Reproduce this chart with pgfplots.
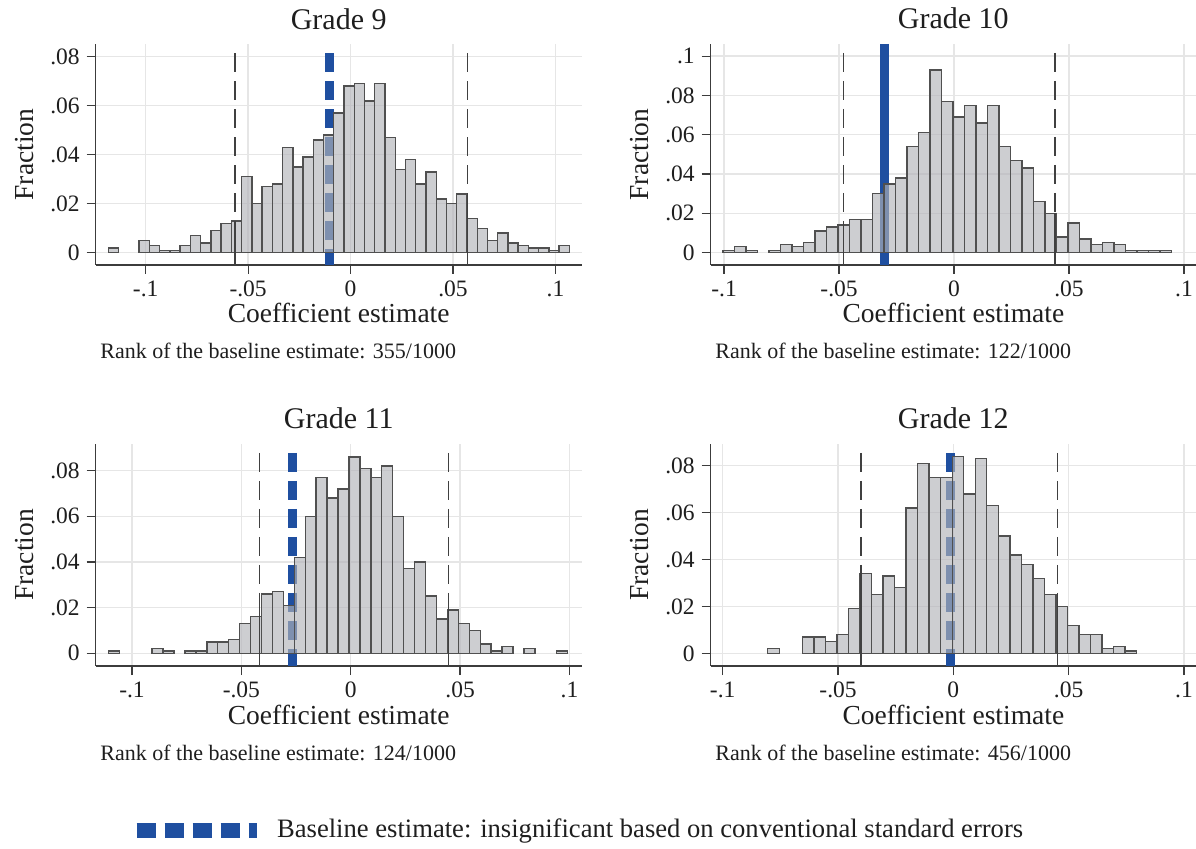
\documentclass[border=0pt]{standalone}
\usepackage{fontspec}
\setmainfont{Liberation Serif}
\usepackage{pgfplots}
\pgfplotsset{compat=1.18}

\definecolor{baseblue}{RGB}{31,79,160}
\definecolor{barfill}{RGB}{178,179,184}
\definecolor{baredge}{RGB}{80,80,80}
\definecolor{gridgray}{RGB}{230,230,230}
\definecolor{axisgray}{RGB}{60,60,60}
\definecolor{txt}{RGB}{30,30,30}

\newcommand\titlefont{\fontsize{15pt}{18pt}\selectfont}
\newcommand\labfont{\fontsize{13.75pt}{16pt}\selectfont}
\newcommand\tickfont{\fontsize{11.75pt}{14pt}\selectfont}
\newcommand\notefont{\fontsize{11pt}{13pt}\selectfont}
\newcommand\legfont{\fontsize{13.3pt}{15pt}\selectfont}

\tikzset{rank/.style={anchor=base west, font=\notefont, text=txt, inner sep=0pt, xshift=2.15pt, yshift=-47pt}}

\pgfplotsset{
  panel/.style={
    scale only axis, anchor=south west, clip=false,
    scaled ticks=false,
    axis x line*=bottom, axis y line*=left,
    axis line style={-, draw=axisgray, line width=0.6pt},
    tick align=outside, major tick length=4.5pt,
    tick style={draw=axisgray, line width=0.6pt},
    grid=major, major grid style={draw=gridgray, line width=0.7pt},
    xtick={-0.1,-0.05,0,0.05,0.1},
    xticklabels={-.1,-.05,0,.05,.1},
    ytick={0,0.02,0.04,0.06,0.08},
    yticklabels={0,.02,.04,.06,.08},
    ticklabel style={font=\tickfont, text=txt},
    title style={at={(axis description cs:0.5,1)}, anchor=base, inner sep=0pt, yshift=1.5pt, font=\titlefont, text=txt},
    xlabel style={at={(axis description cs:0.5,0)}, anchor=base, yshift=-29pt, font=\labfont, text=txt},
    ylabel style={anchor=base, font=\labfont, text=txt},
    xlabel={Coefficient estimate}, ylabel={Fraction},
  },
  bars/.style={ybar, bar width=0.005, bar shift=0pt, fill=barfill, fill opacity=0.65,
    draw=baredge, draw opacity=1, line width=0.7pt, forget plot},
  baseline/.style={baseblue, line width=4.5pt, forget plot},
  baselinedash/.style={baseblue, line width=4.5pt, dash pattern=on 9.5pt off 4.5pt, dash phase=9.5pt, forget plot},
  pctline/.style={draw=black!75, line width=0.75pt, dash pattern=on 9.5pt off 4.5pt, dash phase=9.5pt, forget plot},
  pctsolid/.style={draw=black!75, line width=0.75pt, forget plot},
}

\begin{document}
\begin{tikzpicture}
\useasboundingbox (0,0) rectangle (598pt,424pt);

% ---------------- Grade 9 ----------------
\begin{axis}[panel, at={(47.85pt,291.5pt)}, width=243pt, height=110.5pt,
  xmin=-0.1244, xmax=0.1128, ymin=-0.0050, ymax=0.0852,
  title={Grade 9}, ylabel style={at={(axis description cs:-0.129,0.5)}}]
\addplot[baselinedash] coordinates {(-0.0103,0.0852) (-0.0103,-0.0050)};
\addplot[bars] coordinates {
(-0.1157,0.002) (-0.1007,0.005) (-0.0957,0.003) (-0.0907,0.001) (-0.0857,0.001)
(-0.0807,0.003) (-0.0757,0.007) (-0.0707,0.004) (-0.0657,0.009) (-0.0607,0.012)
(-0.0557,0.013) (-0.0507,0.031) (-0.0457,0.020) (-0.0407,0.027) (-0.0357,0.028)
(-0.0307,0.043) (-0.0257,0.035) (-0.0207,0.039) (-0.0157,0.046) (-0.0107,0.048)
(-0.0057,0.057) (-0.0007,0.068) (0.0043,0.069) (0.0093,0.062) (0.0143,0.069)
(0.0193,0.047) (0.0243,0.034) (0.0293,0.038) (0.0343,0.028) (0.0393,0.033)
(0.0443,0.022) (0.0493,0.020) (0.0543,0.024) (0.0593,0.014) (0.0643,0.010)
(0.0693,0.005) (0.0743,0.008) (0.0793,0.004) (0.0843,0.003) (0.0893,0.002)
(0.0943,0.002) (0.0993,0.001) (0.1043,0.003)};
\addplot[pctsolid] coordinates {(-0.0564,-0.0050) (-0.0564,0.013)};
\addplot[pctsolid] coordinates {(0.0571,-0.0050) (0.0571,0.024)};
\addplot[pctline] coordinates {(-0.0564,0.0852) (-0.0564,-0.0050)};
\addplot[pctline] coordinates {(0.0571,0.0852) (0.0571,-0.0050)};
\node[rank] at (rel axis cs:0,0) {Rank of the baseline estimate: 355/1000};
\end{axis}

% ---------------- Grade 10 ----------------
\begin{axis}[panel, at={(355.35pt,291.5pt)}, width=242.65pt, height=110.5pt,
  xmin=-0.1058, xmax=0.1052, ymin=-0.0063, ymax=0.1062,
  ytick={0,0.02,0.04,0.06,0.08,0.1}, yticklabels={0,.02,.04,.06,.08,.1},
  title={Grade 10}, ylabel style={at={(axis description cs:-0.1292,0.5)}}]
\addplot[baseline] coordinates {(-0.0302,0.1062) (-0.0302,-0.0063)};
\addplot[bars] coordinates {
(-0.0980,0.001) (-0.0930,0.003) (-0.0880,0.001) (-0.0780,0.001) (-0.0730,0.004)
(-0.0680,0.003) (-0.0630,0.005) (-0.0580,0.011) (-0.0530,0.013) (-0.0480,0.014)
(-0.0430,0.017) (-0.0380,0.017) (-0.0330,0.030) (-0.0280,0.035) (-0.0230,0.038)
(-0.0180,0.054) (-0.0130,0.061) (-0.0080,0.093) (-0.0030,0.077) (0.0020,0.069)
(0.0070,0.075) (0.0120,0.066) (0.0170,0.075) (0.0220,0.054) (0.0270,0.047)
(0.0320,0.043) (0.0370,0.026) (0.0420,0.020) (0.0470,0.008) (0.0520,0.015)
(0.0570,0.007) (0.0620,0.004) (0.0670,0.005) (0.0720,0.004) (0.0770,0.001)
(0.0820,0.001) (0.0870,0.001) (0.0920,0.001)};
\addplot[pctsolid] coordinates {(-0.0481,-0.0063) (-0.0481,0.014)};
\addplot[pctsolid] coordinates {(0.0438,-0.0063) (0.0438,0.020)};
\addplot[pctline] coordinates {(-0.0481,0.1062) (-0.0481,-0.0063)};
\addplot[pctline] coordinates {(0.0438,0.1062) (0.0438,-0.0063)};
\node[rank] at (rel axis cs:0,0) {Rank of the baseline estimate: 122/1000};
\end{axis}

% ---------------- Grade 11 ----------------
\begin{axis}[panel, at={(47.85pt,91pt)}, width=243pt, height=111pt,
  xmin=-0.1166, xmax=0.1056, ymin=-0.0056, ymax=0.0917,
  title={Grade 11}, ylabel style={at={(axis description cs:-0.129,0.5)}}]
\addplot[baselinedash] coordinates {(-0.0266,0.0917) (-0.0266,-0.0056)};
\addplot[bars] coordinates {
(-0.1083,0.001) (-0.0883,0.002) (-0.0833,0.001) (-0.0733,0.001) (-0.0683,0.001)
(-0.0633,0.005) (-0.0583,0.005) (-0.0533,0.006) (-0.0483,0.013) (-0.0433,0.016)
(-0.0383,0.026) (-0.0333,0.027) (-0.0283,0.021) (-0.0233,0.042) (-0.0183,0.060)
(-0.0133,0.077) (-0.0083,0.068) (-0.0033,0.072) (0.0017,0.086) (0.0067,0.081)
(0.0117,0.077) (0.0167,0.082) (0.0217,0.060) (0.0267,0.037) (0.0317,0.040)
(0.0367,0.025) (0.0417,0.015) (0.0467,0.019) (0.0517,0.013) (0.0567,0.010)
(0.0617,0.004) (0.0667,0.001) (0.0717,0.003) (0.0817,0.002) (0.0967,0.001)};
\addplot[pctsolid] coordinates {(-0.0418,-0.0056) (-0.0418,0.026)};
\addplot[pctsolid] coordinates {(0.0448,-0.0056) (0.0448,0.019)};
\addplot[pctline] coordinates {(-0.0418,0.0917) (-0.0418,-0.0056)};
\addplot[pctline] coordinates {(0.0448,0.0917) (0.0448,-0.0056)};
\node[rank] at (rel axis cs:0,0) {Rank of the baseline estimate: 124/1000};
\end{axis}

% ---------------- Grade 12 ----------------
\begin{axis}[panel, at={(355.35pt,91pt)}, width=242.65pt, height=111pt,
  xmin=-0.1052, xmax=0.1052, ymin=-0.0054, ymax=0.0893,
  title={Grade 12}, ylabel style={at={(axis description cs:-0.1292,0.5)}}]
\addplot[baselinedash] coordinates {(-0.0011,0.0893) (-0.0011,-0.0054)};
\addplot[bars] coordinates {
(-0.0780,0.002) (-0.0630,0.007) (-0.0580,0.007) (-0.0530,0.005) (-0.0480,0.008)
(-0.0430,0.019) (-0.0380,0.034) (-0.0330,0.025) (-0.0280,0.033) (-0.0230,0.028)
(-0.0180,0.062) (-0.0130,0.081) (-0.0080,0.075) (-0.0030,0.075) (0.0020,0.084)
(0.0070,0.068) (0.0120,0.083) (0.0170,0.063) (0.0220,0.050) (0.0270,0.042)
(0.0320,0.038) (0.0370,0.032) (0.0420,0.025) (0.0470,0.020) (0.0520,0.012)
(0.0570,0.008) (0.0620,0.008) (0.0670,0.002) (0.0720,0.003) (0.0770,0.001)};
\addplot[pctsolid] coordinates {(-0.0400,-0.0054) (-0.0400,0.034)};
\addplot[pctsolid] coordinates {(0.0452,-0.0054) (0.0452,0.020)};
\addplot[pctline] coordinates {(-0.0400,0.0893) (-0.0400,-0.0054)};
\addplot[pctline] coordinates {(0.0452,0.0893) (0.0452,-0.0054)};
\node[rank] at (rel axis cs:0,0) {Rank of the baseline estimate: 456/1000};
\end{axis}

% ---------------- legend ----------------
\draw[baseblue, line width=7.15pt, dash pattern=on 9.5pt off 4.5pt] (68.35pt,8.75pt) -- (128.65pt,8.75pt);
\node[anchor=base west, font=\legfont, text=txt, inner sep=0pt] at (138.35pt,5.15pt) {Baseline estimate: insignificant based on conventional standard errors};
\end{tikzpicture}
\end{document}
